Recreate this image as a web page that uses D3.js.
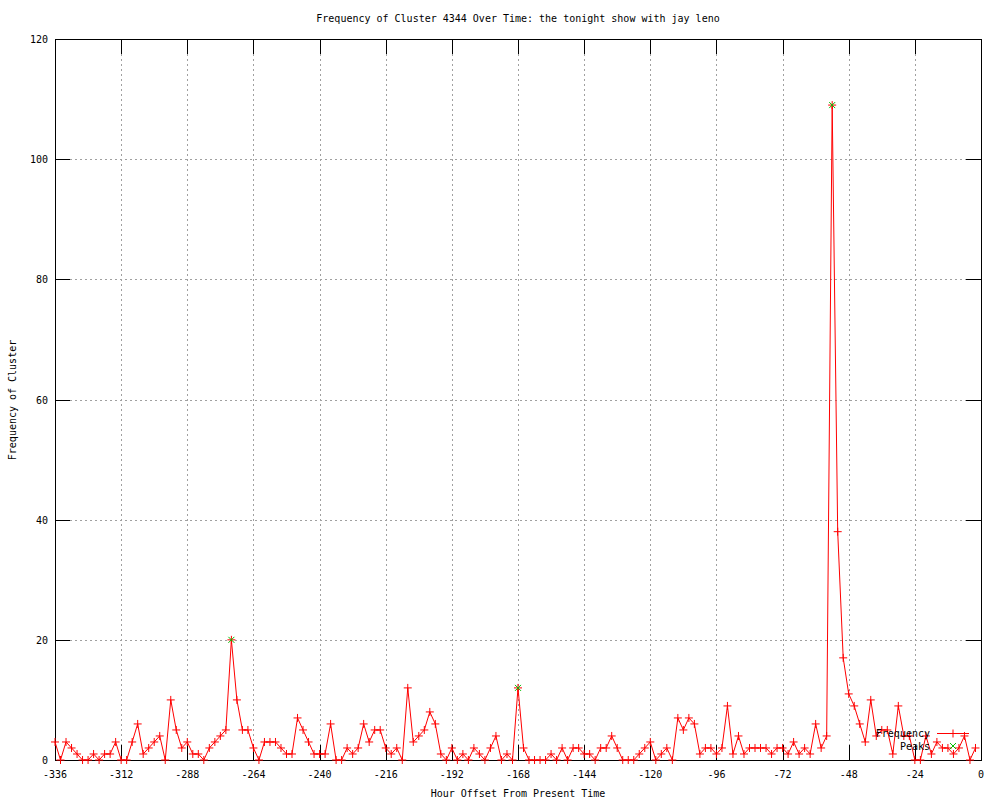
<!DOCTYPE html>
<html>
<head>
<meta charset="utf-8">
<script src="https://cdn.jsdelivr.net/npm/d3@7"></script>
<style>
  body { margin: 0; background: #fff; }
  text { font-family: "DejaVu Sans Mono", monospace; font-size: 10px; fill: #000; }
</style>
</head>
<body>
<div id="chart"></div>
<script>
// hours before present, one sample every 2 hours
const hours = d3.range(-336, 0, 2);

// cluster frequency per sample
const frequency = [
  3, 0, 3, 2, 1, 0, 0, 1, 0, 1, 1, 3, 0, 0, 3, 6, 1, 2, 3, 4,
  0, 10, 5, 2, 3, 1, 1, 0, 2, 3, 4, 5, 20, 10, 5, 5, 2, 0, 3, 3,
  3, 2, 1, 1, 7, 5, 3, 1, 1, 1, 6, 0, 0, 2, 1, 2, 6, 3, 5, 5,
  2, 1, 2, 0, 12, 3, 4, 5, 8, 6, 1, 0, 2, 0, 1, 0, 2, 1, 0, 2,
  4, 0, 1, 0, 12, 2, 0, 0, 0, 0, 1, 0, 2, 0, 2, 2, 1, 1, 0, 2,
  2, 4, 2, 0, 0, 0, 1, 2, 3, 0, 1, 2, 0, 7, 5, 7, 6, 1, 2, 2,
  1, 2, 9, 1, 4, 1, 2, 2, 2, 2, 1, 2, 2, 1, 3, 1, 2, 1, 6, 2,
  4, 109, 38, 17, 11, 9, 6, 3, 10, 4, 5, 5, 1, 9, 4, 4, 0, 0, 4, 1,
  3, 2, 2, 1, 2, 4, 0, 2
];

// detected peaks
const peakHours = [-272, -168, -54];
const peakValues = [20, 12, 109];

const xTicks = [-336, -312, -288, -264, -240, -216, -192, -168, -144, -120, -96, -72, -48, -24, 0];
const yTicks = [0, 20, 40, 60, 80, 100, 120];

const title = "Frequency of Cluster 4344 Over Time: the tonight show with jay leno";

const W = 1000, H = 800;
const plotL = 55, plotR = 981, plotT = 39, plotB = 760;

const svg = d3.select("#chart").append("svg")
  .attr("width", W)
  .attr("height", H);

svg.append("rect").attr("width", W).attr("height", H).attr("fill", "#fff");

const x = d3.scaleLinear().domain([-336, 0]).range([plotL, plotR]);
const y = d3.scaleLinear().domain([0, 120]).range([plotB, plotT]);

const series = hours.map((h, i) => ({ h: h, v: frequency[i] }));
const peaks = peakHours.map((h, i) => ({ h: h, v: peakValues[i] }));

// grid
const grid = svg.append("g")
  .attr("stroke", "#a0a0a0")
  .attr("stroke-dasharray", "2,3")
  .attr("shape-rendering", "crispEdges");

grid.selectAll("line.gx")
  .data(xTicks.slice(1, -1))
  .join("line")
  .attr("class", "gx")
  .attr("x1", d => Math.round(x(d)) + 0.5)
  .attr("x2", d => Math.round(x(d)) + 0.5)
  .attr("y1", plotT)
  .attr("y2", plotB);

grid.selectAll("line.gy")
  .data(yTicks.slice(1, -1))
  .join("line")
  .attr("class", "gy")
  .attr("x1", plotL)
  .attr("x2", plotR)
  .attr("y1", d => Math.round(y(d)) + 0.5)
  .attr("y2", d => Math.round(y(d)) + 0.5);

// axes, ticks mirrored on all four sides like gnuplot
const tickLen = 15;
const axes = svg.append("g")
  .attr("stroke", "#000")
  .attr("shape-rendering", "crispEdges");

xTicks.forEach(t => {
  const px = Math.round(x(t)) + 0.5;
  axes.append("line").attr("x1", px).attr("x2", px).attr("y1", plotB).attr("y2", plotB - tickLen);
  axes.append("line").attr("x1", px).attr("x2", px).attr("y1", plotT).attr("y2", plotT + tickLen);
});
yTicks.forEach(t => {
  const py = Math.round(y(t)) + 0.5;
  axes.append("line").attr("x1", plotL).attr("x2", plotL + tickLen).attr("y1", py).attr("y2", py);
  axes.append("line").attr("x1", plotR).attr("x2", plotR - tickLen).attr("y1", py).attr("y2", py);
});

axes.append("rect")
  .attr("x", plotL + 0.5)
  .attr("y", plotT + 0.5)
  .attr("width", plotR - plotL)
  .attr("height", plotB - plotT)
  .attr("fill", "none");

// tick labels
svg.selectAll("text.xl")
  .data(xTicks)
  .join("text")
  .attr("class", "xl")
  .attr("x", d => x(d))
  .attr("y", 778)
  .attr("text-anchor", "middle")
  .text(d => d);

svg.selectAll("text.yl")
  .data(yTicks)
  .join("text")
  .attr("class", "yl")
  .attr("x", 48)
  .attr("y", d => y(d) + 4)
  .attr("text-anchor", "end")
  .text(d => d);

svg.append("text")
  .attr("x", 518)
  .attr("y", 22)
  .attr("text-anchor", "middle")
  .text(title);

svg.append("text")
  .attr("x", 518)
  .attr("y", 797)
  .attr("text-anchor", "middle")
  .text("Hour Offset From Present Time");

svg.append("text")
  .attr("transform", "translate(16,400) rotate(-90)")
  .attr("text-anchor", "middle")
  .text("Frequency of Cluster");

// frequency line
const line = d3.line().x(d => x(d.h)).y(d => y(d.v));

svg.append("path")
  .datum(series)
  .attr("fill", "none")
  .attr("stroke", "#ff0000")
  .attr("stroke-width", 1)
  .attr("d", line);

// plus markers
const plus = d => `M${x(d.h) - 4},${y(d.v)}H${x(d.h) + 4}M${x(d.h)},${y(d.v) - 4}V${y(d.v) + 4}`;
const cross = d => `M${x(d.h) - 3},${y(d.v) - 3}L${x(d.h) + 3},${y(d.v) + 3}M${x(d.h) - 3},${y(d.v) + 3}L${x(d.h) + 3},${y(d.v) - 3}`;

svg.append("g")
  .selectAll("path")
  .data(series)
  .join("path")
  .attr("d", plus)
  .attr("stroke", "#ff0000")
  .attr("fill", "none");

svg.append("g")
  .selectAll("path")
  .data(peaks)
  .join("path")
  .attr("d", cross)
  .attr("stroke", "#00c000")
  .attr("fill", "none");

// legend
const legend = svg.append("g");
legend.append("text").attr("x", 930).attr("y", 737).attr("text-anchor", "end").text("Frequency");
legend.append("text").attr("x", 930).attr("y", 750).attr("text-anchor", "end").text("Peaks");
legend.append("line")
  .attr("x1", 937).attr("x2", 969).attr("y1", 733.5).attr("y2", 733.5)
  .attr("stroke", "#ff0000");
legend.append("path")
  .attr("d", "M949,733.5H957M953,729.5V737.5")
  .attr("stroke", "#ff0000");
legend.append("path")
  .attr("d", "M950,743L956,749M950,749L956,743")
  .attr("stroke", "#00c000");
</script>
</body>
</html>
